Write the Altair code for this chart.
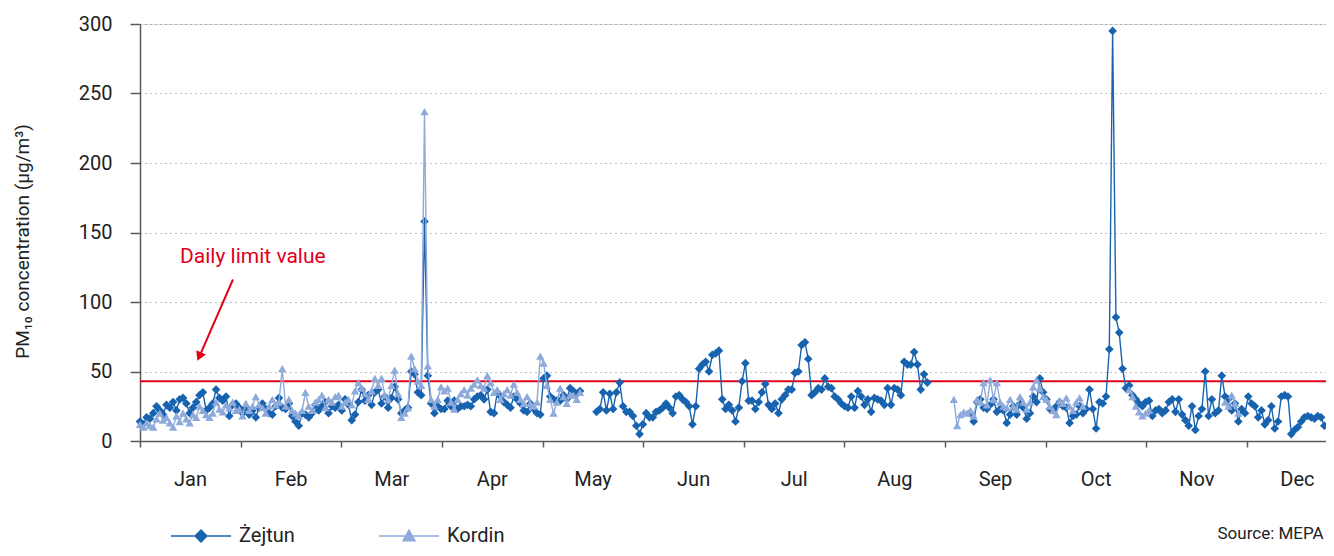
import altair as alt
import pandas as pd

N = None
MONTHS = ["Jan", "Feb", "Mar", "Apr", "May", "Jun", "Jul", "Aug", "Sep", "Oct", "Nov", "Dec"]
SERIES = ["Żejtun", "Kordin"]
LIMIT = 43

# Daily PM10 values (µg/m3), Żejtun
Z_JAN = [14,12,17,16,20,25,22,19,26,24,28,22,30,31,27,20,24,28,33,35,22,24,27,37,31,29,32,18,26,27,24]
Z_FEB = [20,24,19,22,17,24,27,23,20,19,25,31,24,23,27,18,14,11,20,19,17,20,26,22,25,28,20,25,24,26]
Z_MAR = [22,30,26,15,19,28,37,29,33,26,35,37,27,32,24,31,39,30,20,22,24,50,48,35,33,158,47,27,20,25,23]
Z_APR = [23,29,25,29,23,25,25,26,25,30,32,33,30,37,21,20,35,32,28,26,24,32,30,27,22,21,27,23,20,19]
Z_MAY = [45,47,32,30,29,29,33,30,38,36,34,36,N,N,N,N,21,23,35,22,34,23,35,42,25,21,21,18,11,5]
Z_JUN = [12,20,17,17,21,22,24,27,24,20,32,33,30,28,25,12,25,52,55,57,50,62,63,65,30,23,26,22,14,24,43]
Z_JUL = [56,29,29,23,28,35,41,26,23,27,20,30,33,37,37,49,50,69,71,59,33,35,38,37,45,39,38,32,30,27]
Z_AUG = [25,24,32,24,36,32,26,30,21,31,30,29,26,38,26,38,37,33,57,55,55,64,55,37,48,42,N,N,N,N,N]
Z_SEP = [N,N,N,N,N,N,N,20,14,28,30,24,23,26,30,21,23,22,13,19,25,19,27,24,16,20,32,28,45,35]
Z_OCT = [30,23,22,25,28,25,24,13,18,19,25,20,23,37,23,9,28,27,32,66,295,89,78,52,38,40,33,30,27,25]
Z_NOV = [28,29,18,22,23,20,22,28,30,21,30,19,15,11,25,8,18,23,50,18,30,20,22,47,32,30,22,27,14,23,20]
Z_DEC = [32,27,25,17,22,12,15,25,9,14,32,33,32,5,8,10,14,17,18,17,16,18,17,11]

# Daily PM10 values (µg/m3), Kordin
K_JAN = [12,10,13,11,10,16,20,15,17,13,10,18,14,20,16,13,19,17,25,22,19,17,20,28,23,21,26,24,28,22,23]
K_FEB = [18,27,22,25,32,26,24,20,25,30,26,28,52,25,30,22,20,18,22,35,25,22,28,30,33,24,30,28,32,33]
K_MAR = [25,28,30,26,36,42,38,34,30,36,45,40,45,33,30,40,51,34,17,20,24,61,52,43,40,237,54,30,25,30,39]
K_APR = [36,38,28,23,30,34,37,33,38,41,44,40,38,47,42,35,37,30,34,37,33,41,35,30,27,32,27,25,28,61]
K_MAY = [56,40,30,20,28,38,32,27,33,33,30,35] + [N] * 18
K_JUN = [N] * 31
K_JUL = [N] * 30
K_AUG = [N] * 31
K_SEP = [N,N,30,11,19,21,20,22,18,30,28,42,26,44,30,42,28,25,24,30,25,23,32,28,23,28,39,44,38,32]
K_OCT = [30,25,22,19,29,27,31,25,22,28,31,25] + [N] * 13 + [37,32,25,21,18]
K_NOV = [20,22] + [N] * 22 + [28,25,33,27,20] + [N, N]
K_DEC = [N] * 24

ZEJTUN = Z_JAN + Z_FEB + Z_MAR + Z_APR + Z_MAY + Z_JUN + Z_JUL + Z_AUG + Z_SEP + Z_OCT + Z_NOV + Z_DEC
KORDIN = K_JAN + K_FEB + K_MAR + K_APR + K_MAY + K_JUN + K_JUL + K_AUG + K_SEP + K_OCT + K_NOV + K_DEC
NDAYS = len(ZEJTUN)

Z_COLOR = "#1763b0"
K_COLOR = "#8eaadb"
RED = "#e2001a"
AXIS_COLOR = "#5a5a5a"
FONT = "Roboto"

df = pd.DataFrame({
    "day": list(range(NDAYS)) * 2,
    "series": [SERIES[0]] * NDAYS + [SERIES[1]] * NDAYS,
    "value": pd.to_numeric(pd.Series(ZEJTUN + KORDIN), errors="coerce"),
})

MONTH_LEN = 365 / 12
TICKS = [round(k * MONTH_LEN, 3) for k in range(12)]
label_expr = "[" + ",".join("'%s'" % m for m in MONTHS) + "][round(datum.value / %.5f)]" % MONTH_LEN

x_enc = alt.X(
    "day:Q",
    scale=alt.Scale(domain=[0, 358.5], nice=False, zero=False),
    axis=alt.Axis(
        values=TICKS, labelExpr=label_expr, labelOffset=50, labelFlush=False,
        labelOverlap=False, grid=False, title=None, domainColor=AXIS_COLOR,
        domainWidth=1.5, tickColor=AXIS_COLOR, tickSize=6, tickWidth=1.5,
        labelPadding=22, labelFontSize=20, labelColor="#222", labelFont=FONT,
    ),
)
y_enc = alt.Y(
    "value:Q",
    scale=alt.Scale(domain=[0, 300], nice=False),
    axis=alt.Axis(
        values=[0, 50, 100, 150, 200, 250, 300], grid=True, gridDash=[1, 4],
        gridColor="#7f7f7f", gridWidth=1, domainColor=AXIS_COLOR, domainWidth=1.5,
        tickColor=AXIS_COLOR, tickSize=10, tickWidth=1.5, labelPadding=18,
        labelFontSize=20, labelColor="#222", labelFont=FONT,
        title="PM₁₀ concentration (µg/m³)", titleFontSize=19, titleFontWeight="normal",
        titleColor="#222", titleFont=FONT, titleAngle=270, titleX=-118, titleY=217,
        titleAlign="center", titleBaseline="middle",
    ),
)

LINE_DIAMOND = "M-1,0L1,0M0,-0.2L0.2,0L0,0.2L-0.2,0Z"
LINE_TRIANGLE = "M-1,0L1,0M0,-0.2L0.2,0.16L-0.2,0.16Z"
leg = alt.Legend(
    orient="none", legendX=30, legendY=481, direction="horizontal", title=None,
    symbolSize=3600, symbolStrokeWidth=1.4, labelFontSize=20, labelFont=FONT,
    labelColor="#222", labelOffset=7, columnPadding=81, padding=0,
)
color_scale = alt.Scale(domain=SERIES, range=[Z_COLOR, K_COLOR])
color_enc = alt.Color("series:N", scale=color_scale, legend=leg)

layers = []
# limit line
limit_df = pd.DataFrame({"value": [LIMIT]})
layers.append(alt.Chart(limit_df).mark_rule(color=RED, strokeWidth=2).encode(y=y_enc))

for name, shape, size in [(SERIES[0], "diamond", 75), (SERIES[1], "triangle-up", 70)]:
    base = alt.Chart(df).transform_filter(alt.datum.series == name)
    layers.append(base.mark_line(strokeWidth=1.4).encode(x=x_enc, y=y_enc, color=color_enc))
    layers.append(base.mark_point(filled=True, shape=shape, size=size, opacity=1).encode(
        x=x_enc, y=y_enc, color=color_enc))

# annotation
ann_df = pd.DataFrame({"day": [12.1], "value": [132.6], "label": ["Daily limit value"]})
layers.append(alt.Chart(ann_df).mark_text(
    align="left", baseline="middle", fontSize=21, color=RED, font=FONT
).encode(x=x_enc, y=y_enc, text="label:N"))

arrow_df = pd.DataFrame({"day": [28.1], "value": [116.2], "day2": [17.9], "value2": [60.5]})
layers.append(alt.Chart(arrow_df).mark_rule(color=RED, strokeWidth=2).encode(
    x=x_enc, y=y_enc, x2="day2:Q", y2="value2:Q"))
head_df = pd.DataFrame({"day": [17.9], "value": [60.8]})
layers.append(alt.Chart(head_df).mark_point(
    shape="triangle-up", filled=True, color=RED, size=110, angle=204, opacity=1
).encode(x=x_enc, y=y_enc))

# legend entries (points kept outside the plot and clipped; only the legend shows)
leg_df = pd.DataFrame({"day": [10, 10], "value": [-1000, -1000], "series": SERIES})
layers.append(alt.Chart(leg_df).mark_point(filled=True, clip=True, opacity=1, strokeWidth=1.4).encode(
    x=x_enc, y=y_enc,
    color=color_enc,
    stroke=alt.Stroke("series:N", scale=alt.Scale(domain=SERIES, range=[Z_COLOR, K_COLOR]), legend=leg),
    shape=alt.Shape("series:N", scale=alt.Scale(domain=SERIES, range=[LINE_DIAMOND, LINE_TRIANGLE]), legend=leg),
))

chart = alt.layer(*layers).properties(
    width=1186, height=417,
    padding={"left": 132, "top": 16, "right": 0, "bottom": 106},
    autosize=alt.AutoSizeParams(type="none"),
    title=alt.TitleParams("Source: MEPA", orient="bottom", anchor="end", fontSize=17,
                          fontWeight="normal", font=FONT, color="#222", offset=-20, dx=-5),
).configure_view(stroke=None).configure(font=FONT, background="white")

chart.save("out.html", embed_options={"renderer": "svg", "actions": False})
